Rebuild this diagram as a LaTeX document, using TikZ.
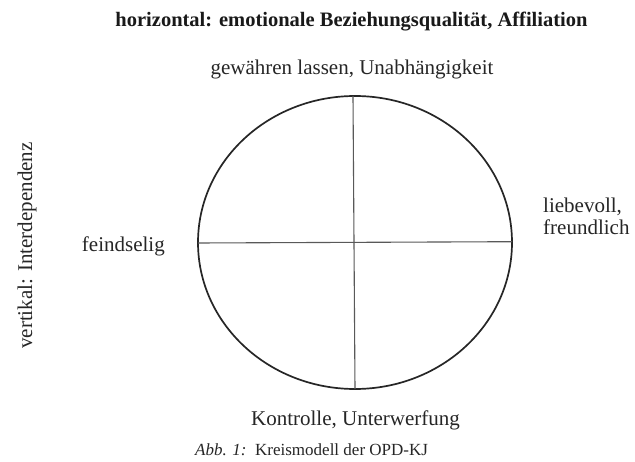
\documentclass[tikz,border=0pt]{standalone}
\usepackage{fontspec}
\setmainfont{Liberation Serif}
\usetikzlibrary{shapes.geometric}
\tikzset{
  lbl/.style={inner sep=0pt, font=\fontsize{21}{22}\selectfont, text=black!85},
  ttl/.style={inner sep=0pt, font=\fontsize{20.5}{22}\bfseries\selectfont, text=black!90},
  captiontext/.style={inner sep=0pt, font=\fontsize{17}{19}\selectfont, text=black!85},
  rim/.style={draw=black!85, line width=1.7pt},
  axis/.style={draw=black!65, line width=1.1pt}
}
\begin{document}
\begin{tikzpicture}[x=1pt,y=-1pt]
\useasboundingbox[fill=white] (0,0) rectangle (635,462);
\node[rim, ellipse, minimum width=314pt, minimum height=293pt, inner sep=0pt] (kreis) at (355,242.5) {};
\coordinate (top) at (353,96);
\coordinate (bot) at (355,389);
\coordinate (lft) at (198,243);
\coordinate (rgt) at (512,241.7);
\draw[axis] (top) -- (bot);
\draw[axis] (lft) -- (rgt);
\node[ttl, anchor=base] (titel) at (351.5,27) {horizontal: emotionale Beziehungsqualität, Affiliation};
\node[lbl, anchor=base] (oben) at (352,75) {gewähren lassen, Unabhängigkeit};
\node[lbl, anchor=base east] (links) at (165,252) {feindselig};
\node[lbl, anchor=base west, align=left] (rechts) at (543,235) {liebevoll,\\freundlich};
\node[lbl, anchor=base] (unten) at (355.5,425) {Kontrolle, Unterwerfung};
\node[captiontext, anchor=base west] (abb) at (195,455) {\textit{Abb. 1:}\enspace Kreismodell der OPD-KJ};
\node[lbl, rotate=90, anchor=base] (vert) at (32,245.5) {vertikal: Interdependenz};
\end{tikzpicture}
\end{document}
